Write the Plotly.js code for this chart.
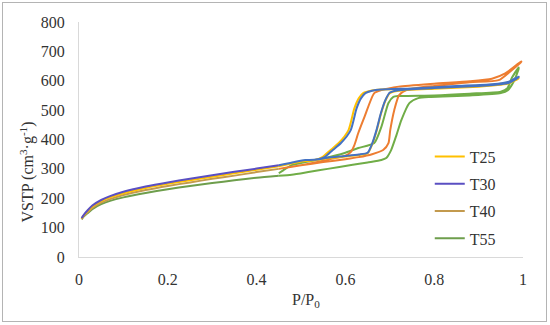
<!DOCTYPE html>
<html>
<head>
<meta charset="utf-8">
<script src="https://cdn.plot.ly/plotly-3.0.1.min.js"></script>
<style>
  html, body { margin: 0; padding: 0; background: #fff; }
  #wrap { position: relative; width: 550px; height: 325px; }
  #chart { position: absolute; left: 0; top: 0; width: 550px; height: 325px; }
  #frame { position: absolute; left: 2px; top: 2px; width: 543px; height: 318px; border: 1px solid #b4b4b4; pointer-events: none; }
</style>
</head>
<body>
<div id="wrap"><div id="chart"></div><div id="frame"></div></div>
<script>
// Low-pressure adsorption (legend series)
const seriesNames = ['T25', 'T30', 'T40', 'T55'];
const P_low = [0.006, 0.01, 0.02, 0.03, 0.05, 0.07, 0.1, 0.15, 0.2, 0.25, 0.3, 0.35, 0.4, 0.45];
const T25_low = [130, 140, 157, 172, 190, 203, 217, 235, 249, 261, 273, 285, 297, 309];
const T30_low = [132, 142, 160, 175, 194, 207, 222, 240, 254, 266, 278, 290, 301, 312];
const T40_low = [129, 139, 153, 167, 185, 197, 211, 228, 242, 254, 266, 277, 289, 300];
const T55_low = [128, 137, 150, 163, 180, 191, 203, 218, 231, 242, 252, 261, 270, 277];

// Hysteresis loops: adsorption branch then desorption branch
const T25_ads_P = [0.45, 0.48, 0.51, 0.53, 0.56, 0.6, 0.63, 0.65, 0.66, 0.67, 0.68, 0.69, 0.70, 0.72, 0.8, 0.9, 0.95, 0.97, 0.99];
const T25_ads_V = [309, 319, 327, 329, 336, 342, 347, 353, 382, 428, 487, 532, 558, 566, 573, 580, 586, 592, 608];
const T25_des_P = [0.99, 0.97, 0.93, 0.85, 0.75, 0.68, 0.66, 0.64, 0.63, 0.62, 0.607, 0.585, 0.565, 0.548, 0.53, 0.51, 0.48, 0.45];
const T25_des_V = [610, 596, 586, 580, 573, 570, 567, 558, 540, 505, 432, 388, 362, 340, 330, 328, 319, 309];

const T30_ads_P = [0.45, 0.48, 0.51, 0.53, 0.56, 0.6, 0.63, 0.65, 0.66, 0.67, 0.68, 0.69, 0.70, 0.72, 0.8, 0.9, 0.95, 0.97, 0.99];
const T30_ads_V = [312, 322, 330, 331, 338, 344, 349, 355, 385, 432, 490, 534, 560, 568, 575, 582, 588, 594, 612];
const T30_des_P = [0.99, 0.97, 0.93, 0.85, 0.75, 0.68, 0.66, 0.645, 0.635, 0.625, 0.612, 0.59, 0.57, 0.553, 0.53, 0.51, 0.48, 0.45];
const T30_des_V = [614, 598, 588, 582, 574, 570, 566, 558, 540, 505, 432, 388, 362, 340, 331, 330, 322, 312];

const T40_ads_P = [0.45, 0.5, 0.55, 0.6, 0.63, 0.66, 0.685, 0.697, 0.701, 0.71, 0.721, 0.737, 0.76, 0.8, 0.88, 0.945, 0.97, 0.996];
const T40_ads_V = [300, 312, 323, 333, 340, 350, 364, 388, 432, 500, 551, 568, 575, 582, 595, 602, 630, 664];
const T40_des_P = [0.996, 0.96, 0.93, 0.88, 0.8, 0.72, 0.681, 0.665, 0.643, 0.629, 0.62, 0.612, 0.6, 0.55, 0.5, 0.45];
const T40_des_V = [666, 625, 607, 598, 590, 580, 568, 558, 477, 422, 380, 357, 345, 328, 312, 300];

const T55_ads_P = [0.45, 0.479, 0.52, 0.56, 0.613, 0.65, 0.681, 0.692, 0.703, 0.715, 0.726, 0.744, 0.764, 0.793, 0.88, 0.95, 0.966, 0.98, 0.99];
const T55_ads_V = [277, 280, 290, 300, 313, 322, 330, 337, 364, 415, 466, 524, 541, 545, 550, 558, 568, 600, 640];
const T55_des_P = [0.99, 0.975, 0.965, 0.95, 0.88, 0.8, 0.719, 0.708, 0.697, 0.681, 0.665, 0.629, 0.6, 0.55, 0.5, 0.479, 0.46, 0.45];
const T55_des_V = [645, 610, 575, 563, 556, 550, 548, 545, 524, 443, 388, 371, 355, 335, 320, 313, 295, 285];

const legendColors = ['#FFC000', '#5A4FC2', '#C39A4E', '#6E9E4C'];
const loopColors = ['#FFC000', '#4472C4', '#ED7D31', '#70AD47'];

const lows = [T25_low, T30_low, T40_low, T55_low];
const loops = [
  [T25_ads_P, T25_ads_V, T25_des_P, T25_des_V],
  [T30_ads_P, T30_ads_V, T30_des_P, T30_des_V],
  [T40_ads_P, T40_ads_V, T40_des_P, T40_des_V],
  [T55_ads_P, T55_ads_V, T55_des_P, T55_des_V]
];

const traces = [];
[3, 2, 0, 1].forEach(i => {
  const L = loops[i];
  traces.push({
    type: 'scatter', mode: 'lines',
    x: L[0].concat(L[2]), y: L[1].concat(L[3]),
    line: { color: loopColors[i], width: 2, shape: 'spline', smoothing: 0.6 },
    showlegend: false, hoverinfo: 'skip'
  });
});
[3, 2, 0, 1].forEach(i => {
  traces.push({
    type: 'scatter', mode: 'lines',
    x: P_low, y: lows[i], name: seriesNames[i],
    legendgroup: seriesNames[i], legendrank: i + 1,
    line: { color: legendColors[i], width: 2, shape: 'spline', smoothing: 0.6 }
  });
});

const font = 'Liberation Serif';
const layout = {
  width: 550, height: 325,
  margin: { l: 79, r: 27, t: 22, b: 68 },
  paper_bgcolor: '#fff', plot_bgcolor: '#fff',
  font: { family: font, size: 16, color: '#333' },
  xaxis: {
    range: [0, 1], dtick: 0.2, tick0: 0,
    showgrid: false, zeroline: false, showline: true,
    linecolor: '#d9d9d9', linewidth: 1, ticks: '',
    ticklabelstandoff: 8, fixedrange: true,
    tickfont: { family: font, size: 16, color: '#333' }
  },
  yaxis: {
    range: [0, 800], dtick: 100, tick0: 0,
    showgrid: false, zeroline: false, showline: true,
    linecolor: '#d9d9d9', linewidth: 1, ticks: '',
    ticklabelstandoff: 10, fixedrange: true,
    tickfont: { family: font, size: 16, color: '#333' }
  },
  showlegend: true,
  legend: {
    x: 0.79, xanchor: 'left', y: 0.50, yanchor: 'top',
    bgcolor: 'rgba(0,0,0,0)', borderwidth: 0,
    tracegroupgap: 3.5, traceorder: 'grouped',
    font: { family: font, size: 16, color: '#333' }
  },
  annotations: [
    { text: 'VSTP (cm<sup>3</sup>·g<sup>-1</sup>)', xref: 'paper', yref: 'paper',
      x: -0.117, y: 0.36, xanchor: 'center', yanchor: 'middle', textangle: -90,
      showarrow: false, font: { family: font, size: 16, color: '#333' } },
    { text: 'P/P<sub>0</sub>', xref: 'paper', yref: 'paper',
      x: 0.512, y: -0.183, xanchor: 'center', yanchor: 'middle',
      showarrow: false, font: { family: font, size: 16, color: '#333' } }
  ]
};

Plotly.newPlot('chart', traces, layout, { displayModeBar: false, staticPlot: true });
</script>
</body>
</html>
